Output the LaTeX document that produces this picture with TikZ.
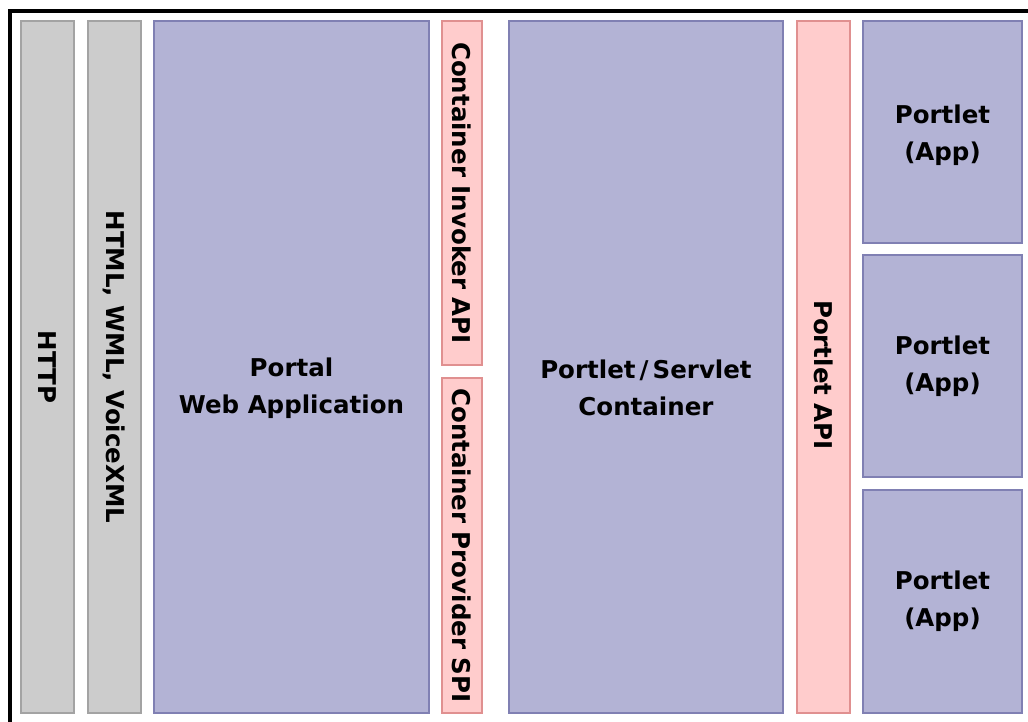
\documentclass[tikz,border=0pt]{standalone}
\usepackage{fontspec}
\setmainfont{DejaVu Sans}
\definecolor{grayfill}{HTML}{CCCCCC}
\definecolor{graydraw}{HTML}{A3A3A3}
\definecolor{bluefill}{HTML}{B3B3D5}
\definecolor{bluedraw}{HTML}{8080B3}
\definecolor{pinkfill}{HTML}{FFCCCC}
\definecolor{pinkdraw}{HTML}{E09090}
\tikzset{
  txt/.style={align=center, font=\fontsize{24.5}{37}\selectfont\bfseries},
  box/.style={rectangle, inner sep=0pt, line width=1.5pt, txt},
  graybox/.style={box, fill=grayfill, draw=graydraw},
  bluebox/.style={box, fill=bluefill, draw=bluedraw},
  pinkbox/.style={box, fill=pinkfill, draw=pinkdraw},
  vert/.style={rotate=-90},
}
\begin{document}
\begin{tikzpicture}[x=1pt,y=-1pt]
\useasboundingbox (0,0) rectangle (1028,722);
\fill[white] (0,0) rectangle (1028,722);
\draw[line width=4pt] (10,722) -- (10,11) -- (1028,11);
% gray columns
\node[graybox, vert, minimum width=692, minimum height=53] (http) at (47.5,367) {HTTP};
\node[graybox, vert, minimum width=692, minimum height=53] (html) at (114.5,367) {HTML, WML, VoiceXML};
% portal
\node[bluebox, minimum width=275, minimum height=692,
  label={[txt, yshift=-21pt]center:Portal\\Web Application}] (portal) at (291.5,367) {};
% container APIs
\node[pinkbox, vert, minimum width=344, minimum height=40] (invoker) at (462,193) {Container Invoker API};
\node[pinkbox, vert, minimum width=335, minimum height=40] (provider) at (462,545.5) {Container Provider SPI};
% container
\node[bluebox, minimum width=274, minimum height=692,
  label={[txt, yshift=-21pt]center:Portlet\,/\,Servlet\\Container}] (container) at (646,367) {};
% portlet API
\node[pinkbox, vert, minimum width=692, minimum height=53,
  label={[txt, rotate=-90, xshift=8pt]center:Portlet API}] (papi) at (823.5,367) {};
% portlets
\node[bluebox, minimum width=159, minimum height=222,
  label={[txt, yshift=-3pt]center:Portlet\\(App)}] (app1) at (942.5,132) {};
\node[bluebox, minimum width=159, minimum height=222] (app2) at (942.5,366) {Portlet\\(App)};
\node[bluebox, minimum width=159, minimum height=223] (app3) at (942.5,601.5) {Portlet\\(App)};
\end{tikzpicture}
\end{document}
